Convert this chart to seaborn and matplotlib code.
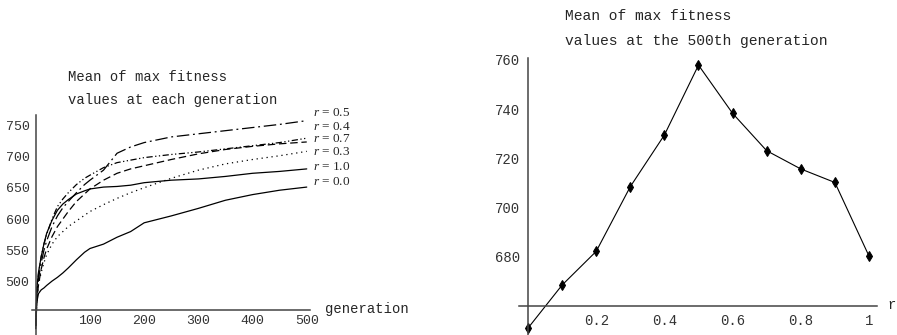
import numpy as np
import pandas as pd
import matplotlib
matplotlib.use("Agg")
import matplotlib.pyplot as plt
from matplotlib.ticker import MultipleLocator, FixedLocator, FixedFormatter
import seaborn as sns

## Datos
generaciones = [0, 2, 5, 10, 15, 20, 30, 40, 50, 60, 75, 90, 100, 125, 150, 175,
                200, 250, 300, 350, 400, 450, 500]

fit_r00 = [425, 468, 481, 487, 490, 494, 501, 507, 514, 522, 535, 547, 553, 560, 571, 580,
           594, 605, 617, 630, 639, 646, 651]
fit_r10 = [430, 490, 515, 540, 560, 577, 598, 614, 624, 631, 640, 645, 648, 651, 652, 654,
           658, 662, 664, 668, 673, 676, 680]
fit_r03 = [430, 470, 495, 515, 530, 543, 560, 572, 580, 588, 597, 606, 612, 623, 633, 642,
           650, 665, 678, 688, 695, 701, 708]
fit_r05 = [430, 480, 505, 530, 550, 565, 588, 605, 618, 628, 642, 655, 662, 678, 705, 715,
           722, 731, 736, 741, 746, 751, 757]
fit_r04 = [430, 485, 512, 540, 560, 575, 600, 620, 632, 642, 655, 665, 670, 682, 690, 694,
           698, 703, 707, 712, 717, 722, 729]
fit_r07 = [430, 470, 495, 520, 538, 552, 572, 588, 600, 612, 628, 640, 648, 662, 673, 680,
           685, 695, 704, 711, 716, 720, 723]

etiquetas_r = ["0.5", "0.4", "0.7", "0.3", "1.0", "0.0"]
etiquetas_y = [769, 747, 727, 707, 683, 659]

valores_r = [0.0, 0.1, 0.2, 0.3, 0.4, 0.5, 0.6, 0.7, 0.8, 0.9, 1.0]
fit_final = [651, 668.5, 682.2, 708.5, 729.5, 757.9, 738.3, 723.1, 715.7, 710.2, 680.3]

curvas = {"0.0": fit_r00, "1.0": fit_r10, "0.3": fit_r03,
          "0.5": fit_r05, "0.4": fit_r04, "0.7": fit_r07}
df = pd.concat([pd.DataFrame({"generation": generaciones, "fitness": v, "r": k})
                for k, v in curvas.items()], ignore_index=True)

estilos = {"0.0": "", "1.0": "", "0.3": (1, 3),
           "0.5": (10, 3, 1.5, 3), "0.4": (5, 2, 1, 2, 1, 2), "0.7": (6, 3)}

## Estilo
sns.set_style("white")
plt.rcParams["font.family"] = ["Liberation Mono", "DejaVu Sans Mono"]
plt.rcParams["mathtext.fontset"] = "custom"
plt.rcParams["mathtext.rm"] = "Liberation Serif"
plt.rcParams["mathtext.it"] = "Liberation Serif:italic"

fig = plt.figure(figsize=(8.97, 3.35), dpi=100)
W, H = 897.0, 335.0
ax1 = fig.add_axes([31.7 / W, 0, 278.3 / W, 220 / H])
ax2 = fig.add_axes([519 / W, 0, 358 / W, 277 / H])


def estilo_ejes(ax, y_cruce):
    for s in ["top", "right"]:
        ax.spines[s].set_visible(False)
    ax.spines["left"].set_position(("data", 0))
    ax.spines["bottom"].set_position(("data", y_cruce))
    for s in ["left", "bottom"]:
        ax.spines[s].set_linewidth(1.1)
        ax.spines[s].set_color("#444444")
    ax.tick_params(which="major", direction="inout", length=5, width=0.8, pad=2,
                   labelsize=9.5, colors="black")
    ax.tick_params(which="minor", direction="in", length=2.5, width=0.8)
    for lab in ax.get_xticklabels() + ax.get_yticklabels():
        lab.set_color("#333333")


## Panel izquierdo
sns.lineplot(data=df, x="generation", y="fitness", style="r", dashes=estilos,
             color="black", linewidth=0.9, legend=False, ax=ax1)
ax1.set_xlim(-7.5, 506)
ax1.set_ylim(415, 766)
ax1.set_xlabel("")
ax1.set_ylabel("")
ax1.xaxis.set_major_locator(FixedLocator([100, 200, 300, 400, 500]))
ax1.xaxis.set_minor_locator(MultipleLocator(20))
ax1.yaxis.set_major_locator(FixedLocator([500, 550, 600, 650, 700, 750]))
ax1.yaxis.set_minor_locator(MultipleLocator(10))
estilo_ejes(ax1, 455)
ax1.tick_params(axis="x", pad=1)

for lab, yv in zip(etiquetas_r, etiquetas_y):
    ax1.text(512, yv, r"$r$ = " + lab, fontsize=9.5, family="Liberation Serif",
             ha="left", va="center", clip_on=False)
ax1.text(534, 456, "generation", fontsize=10, ha="left", va="center", clip_on=False)

fig.text(68 / W, 1 - 77 / H, "Mean of max fitness", fontsize=10, ha="left", va="center")
fig.text(68 / W, 1 - 100 / H, "values at each generation", fontsize=10, ha="left",
         va="center")

## Panel derecho
sns.lineplot(x=valores_r, y=fit_final, color="black", linewidth=0.8, marker="d",
             markersize=5, markeredgecolor="black", markerfacecolor="black", ax=ax2)
ax2.set_xlim(-0.0264, 1.0235)
ax2.set_ylim(648.2, 760.8)
ax2.xaxis.set_major_locator(FixedLocator([0.2, 0.4, 0.6, 0.8, 1.0]))
ax2.xaxis.set_major_formatter(FixedFormatter(["0.2", "0.4", "0.6", "0.8", "1"]))
ax2.xaxis.set_minor_locator(MultipleLocator(0.05))
ax2.yaxis.set_major_locator(FixedLocator([680, 700, 720, 740, 760]))
ax2.yaxis.set_minor_locator(MultipleLocator(5))
estilo_ejes(ax2, 660)
ax2.tick_params(labelsize=10, pad=3)
ax2.text(1.067, 660.5, "r", fontsize=10, ha="center", va="center", clip_on=False)

fig.text(565 / W, 1 - 16 / H, "Mean of max fitness", fontsize=10.5, ha="left", va="center")
fig.text(565 / W, 1 - 41 / H, "values at the 500th generation", fontsize=10.5, ha="left",
         va="center")

fig.savefig("out.png", dpi=100)
